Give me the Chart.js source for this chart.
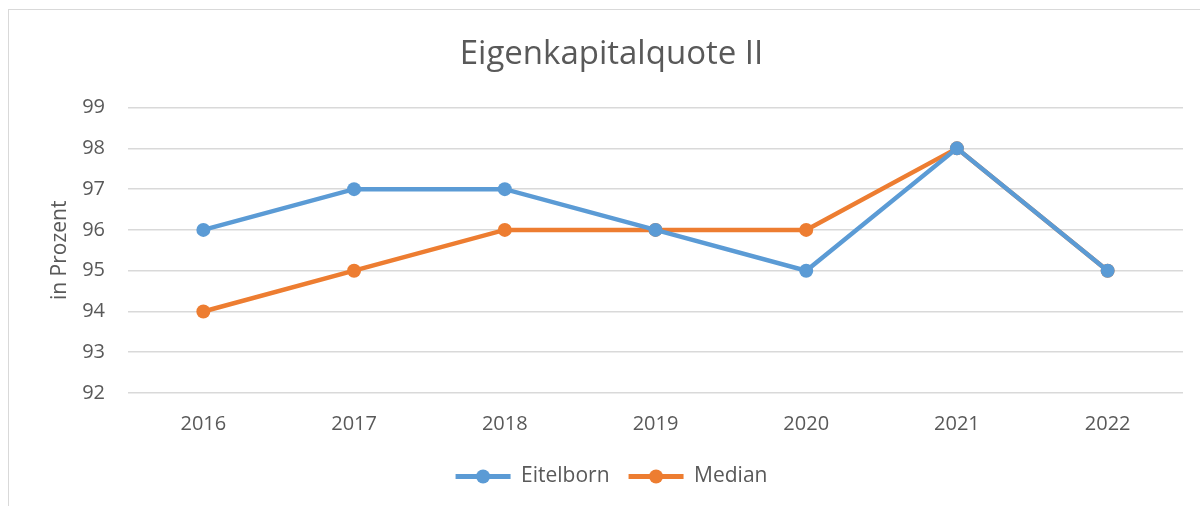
<!DOCTYPE html>
<html>
<head>
<meta charset="utf-8">
<script src="https://cdn.jsdelivr.net/npm/chart.js@4.4.1/dist/chart.umd.min.js"></script>
<style>
  html, body { margin: 0; padding: 0; background: #fff; }
  #wrap { position: relative; width: 1200px; height: 506px; overflow: hidden; }
  #frame { position: absolute; left: 8px; top: 9px; width: 1300px; height: 600px;
           border-left: 1.5px solid #d9d9d9; border-top: 1.5px solid #d9d9d9; }
  canvas { position: absolute; left: 0; top: 0; }
</style>
</head>
<body>
<div id="wrap">
  <div id="frame"></div>
  <canvas id="chart" width="1200" height="506"></canvas>
</div>
<script>
const years = ['2016', '2017', '2018', '2019', '2020', '2021', '2022'];
const eitelborn = [96, 97, 97, 96, 95, 98, 95];
const median = [94, 95, 96, 96, 96, 98, 95];

const BLUE = '#5b9bd5';
const ORANGE = '#ed7d31';
const TEXT = '#595959';
const FONT = '"Open Sans", sans-serif';

// draws the marker dot in the middle of each legend line
const legendDots = {
    id: 'legendDots',
    afterDraw(chart) {
        const legend = chart.legend;
        if (!legend || !legend.legendHitBoxes) return;
        const ctx = chart.ctx;
        legend.legendHitBoxes.forEach((box, i) => {
            const ds = chart.data.datasets[i];
            const bw = legend.options.labels.boxWidth;
            const cx = box.left + bw / 2;
            const cy = box.top + box.height / 2;
            ctx.save();
            ctx.fillStyle = ds.borderColor;
            ctx.beginPath();
            ctx.arc(cx, cy, 7, 0, Math.PI * 2);
            ctx.fill();
            ctx.restore();
        });
    }
};

new Chart(document.getElementById('chart'), {
    type: 'line',
    data: {
        labels: years,
        datasets: [
            {
                label: 'Eitelborn',
                data: eitelborn,
                borderColor: BLUE,
                backgroundColor: BLUE,
                borderWidth: 4.5,
                pointRadius: 7,
                pointBorderWidth: 0,
                pointBackgroundColor: BLUE,
                tension: 0
            },
            {
                label: 'Median',
                data: median,
                borderColor: ORANGE,
                backgroundColor: ORANGE,
                borderWidth: 4.5,
                pointRadius: 7,
                pointBorderWidth: 0,
                pointBackgroundColor: ORANGE,
                tension: 0
            }
        ]
    },
    options: {
        responsive: false,
        animation: false,
        layout: { padding: { left: 40, right: 17, top: 0, bottom: 9 } },
        plugins: {
            title: {
                display: true,
                text: 'Eigenkapitalquote II',
                color: TEXT,
                font: { family: FONT, size: 33, weight: 'normal' },
                padding: { top: 35, bottom: 33 }
            },
            legend: {
                position: 'bottom',
                labels: {
                    color: TEXT,
                    font: { family: FONT, size: 21 },
                    boxWidth: 55,
                    boxHeight: 5,
                    padding: 19,
                    generateLabels(chart) {
                        return Chart.defaults.plugins.legend.labels.generateLabels(chart)
                            .map(l => Object.assign(l, { lineWidth: 0 }));
                    }
                }
            },
            tooltip: { enabled: false }
        },
        scales: {
            x: {
                offset: true,
                grid: { display: false },
                border: { display: false },
                ticks: { color: TEXT, font: { family: FONT, size: 20 }, padding: 11 }
            },
            y: {
                min: 92,
                max: 99,
                grid: { color: '#d9d9d9', lineWidth: 1.5, drawTicks: false },
                border: { display: false },
                ticks: { stepSize: 1, color: TEXT, font: { family: FONT, size: 20 }, padding: 23 },
                title: {
                    display: true,
                    text: 'in Prozent',
                    color: TEXT,
                    font: { family: FONT, size: 21 },
                    padding: { top: 7, bottom: 0 }
                },
                afterFit(scale) { scale.width = 88; }
            }
        }
    },
    plugins: [legendDots]
});
</script>
</body>
</html>
